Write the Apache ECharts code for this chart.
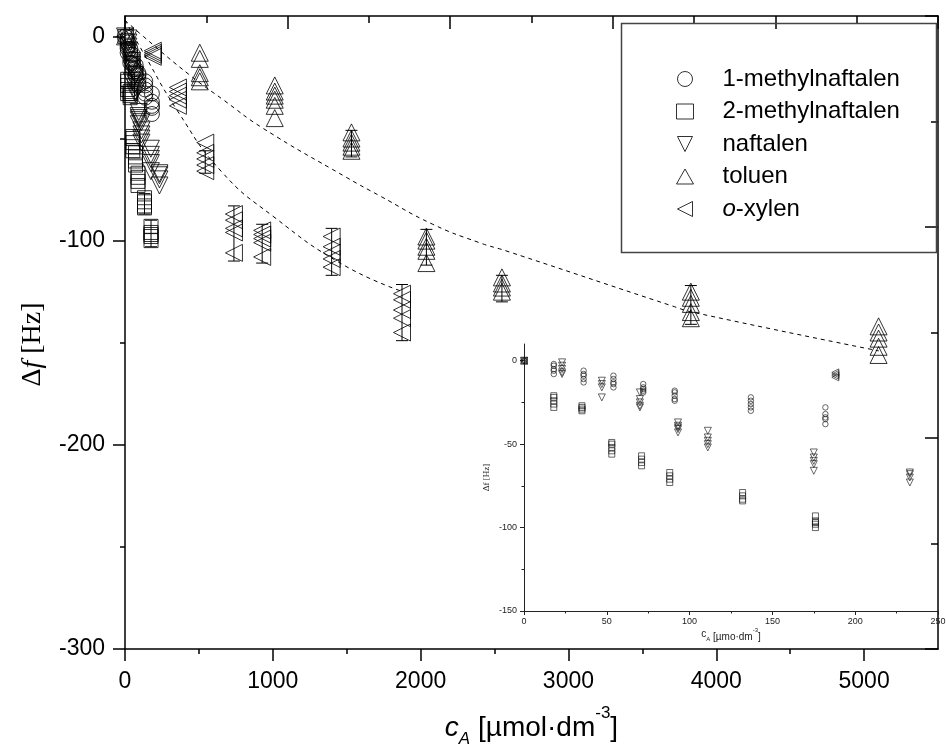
<!DOCTYPE html>
<html><head><meta charset="utf-8">
<script src="https://cdn.jsdelivr.net/npm/echarts@6/dist/echarts.min.js"></script>
<style>html,body{margin:0;padding:0;background:#fff}#c{width:946px;height:756px}</style>
</head><body><div id="c"></div>
<script>
// ---- data ----
const legendNames = ['1-methylnaftalen', '2-methylnaftalen', 'naftalen', 'toluen', 'o-xylen'];

const c1MN = [0, 18, 36, 54, 72, 91, 137, 182];
const v1MN = [[0], [-2, -3, -5, -6, -8], [-6, -8, -9, -11, -13], [-9, -11, -13, -14, -16], [-14, -16, -17, -18, -19], [-18, -19, -21, -23, -24], [-22, -24, -26, -28, -30], [-28, -32, -34, -35, -38]];

const c2MN = [0, 18, 35, 53, 71, 88, 132, 176];
const v2MN = [[0], [-21, -22, -24, -26, -28], [-27, -28, -29, -30], [-49, -50, -52, -54, -56], [-57, -59, -61, -63], [-67, -69, -71, -73], [-79, -81, -83, -84], [-93, -96, -97, -98, -100]];

const cNaf = [0, 23, 47, 70, 93, 111, 175, 233];
const vNaf = [[0], [-1, -3, -5, -7, -8], [-12, -14, -16, -22], [-19, -23, -25, -27, -28], [-37, -39, -40, -41, -43], [-42, -46, -48, -50, -52], [-55, -58, -60, -62, -66], [-67, -68, -70, -73]];

const cTol = [0, 506, 1013, 1532, 2039, 2550, 3828, 5098];
const vTol = [[0], [-8, -11, -18, -20, -22], [-24, -27, -29, -31, -34, -40], [-47, -50, -52, -54, -56], [-98, -100, -103, -105, -111], [-118, -121, -123, -125], [-125, -128, -131, -135, -138], [-142, -145, -148, -152, -156]];

const cXyl = [0, 188, 358, 543, 737, 928, 1398, 1874];
const vXyl = [[0], [-7, -8, -9, -10], [-25, -27, -29, -31, -34], [-52, -57, -60, -63, -66], [-87, -90, -94, -96, -106], [-95, -97, -99, -101, -108], [-98, -103, -106, -109, -113], [-126, -129, -134, -138, -145]];

// error bars: concentration, low, high
const errC = [132, 176, 543, 737, 928, 1398, 1874, 1532, 2039, 2550, 3828];
const errLo = [-87, -103, -67, -110, -111, -117, -149, -59, -112, -130, -141];
const errHi = [-77, -90, -56, -83, -92, -94, -121.5, -46, -94.5, -117, -122];

// dashed fit curves
const fitTolX = [0, 124, 439, 664, 934, 1497, 1722, 2082, 2397, 2577, 3702, 3837, 5100];
const fitTolY = [8, 0, -19, -31, -45, -69, -78, -92, -101, -105, -132, -135, -154];
const fitXylX = [0, 124, 360, 650, 1000, 1480, 1880];
const fitXylY = [8, -8, -37, -66, -88, -112, -125];

// axis ranges and ticks
const mainXRange = [0, 5500];
const mainYRange = [-300, 10];
const mainXTicks = [0, 1000, 2000, 3000, 4000, 5000];
const mainXMinor = [500, 1500, 2500, 3500, 4500];
const mainYTicks = [-300, -200, -100, 0];
const mainYMinor = [-250, -150, -50];
const insetXRange = [0, 250];
const insetYRange = [-150, 10];
const insetXTicks = [0, 50, 100, 150, 200, 250];
const insetXMinor = [25, 75, 125, 175, 225];
const insetYTicks = [-150, -100, -50, 0];
const insetYMinor = [-125, -75, -25];

// ---- build ----
function pairs(cs, vs) {
  const out = [];
  cs.forEach((c, i) => vs[i].forEach(v => out.push([c, v])));
  return out;
}
const FONT = 'Liberation Sans';
const SERIF = 'Liberation Serif';
const hollow = {color: 'rgba(255,255,255,0)', borderColor: '#000', borderWidth: 1};
const DOWN = 'path://M0,0 L10,0 L5,10 Z';
const LEFT = 'path://M10,0 L10,10 L0,5 Z';

const defs = [
  {name: legendNames[0], cs: c1MN, vs: v1MN, symbol: 'circle', size: 15, isize: 5.5},
  {name: legendNames[1], cs: c2MN, vs: v2MN, symbol: 'rect', size: 14, isize: 6},
  {name: legendNames[2], cs: cNaf, vs: vNaf, symbol: DOWN, size: 17, isize: 7},
  {name: legendNames[3], cs: cTol, vs: vTol, symbol: 'triangle', size: 17, isize: 7},
  {name: legendNames[4], cs: cXyl, vs: vXyl, symbol: LEFT, size: 17, isize: 7}
];

const series = [];
defs.forEach(d => {
  series.push({type: 'scatter', name: d.name, xAxisIndex: 0, yAxisIndex: 0, symbol: d.symbol,
    symbolSize: d.size, itemStyle: hollow, data: pairs(d.cs, d.vs), z: 3});
});
defs.forEach(d => {
  series.push({type: 'scatter', name: d.name, xAxisIndex: 2, yAxisIndex: 2, symbol: d.symbol,
    symbolSize: d.isize, itemStyle: {color: 'rgba(255,255,255,0)', borderColor: '#111', borderWidth: 0.8},
    data: pairs(d.cs, d.vs), clip: true, z: 3});
});
series.push({type: 'line', name: 'fitTol', xAxisIndex: 0, yAxisIndex: 0, smooth: true, showSymbol: false,
  symbol: 'none', lineStyle: {color: '#000', width: 1, type: [4, 4]}, data: fitTolX.map((x, i) => [x, fitTolY[i]]), z: 2});
series.push({type: 'line', name: 'fitXyl', xAxisIndex: 0, yAxisIndex: 0, smooth: true, showSymbol: false,
  symbol: 'none', lineStyle: {color: '#000', width: 1, type: [4, 4]}, data: fitXylX.map((x, i) => [x, fitXylY[i]]), z: 2});
series.push({type: 'custom', name: 'err', xAxisIndex: 0, yAxisIndex: 0, z: 4,
  data: errC.map((c, i) => [c, errLo[i], errHi[i]]),
  encode: {x: 0, y: [1, 2]},
  renderItem: function (params, api) {
    const x = api.value(0);
    const a = api.coord([x, api.value(2)]);
    const b = api.coord([x, api.value(1)]);
    const w = 6;
    const st = {stroke: '#000', lineWidth: 1};
    return {type: 'group', children: [
      {type: 'line', shape: {x1: a[0], y1: a[1], x2: b[0], y2: b[1]}, style: st},
      {type: 'line', shape: {x1: a[0] - w, y1: a[1], x2: a[0] + w, y2: a[1]}, style: st},
      {type: 'line', shape: {x1: b[0] - w, y1: b[1], x2: b[0] + w, y2: b[1]}, style: st}
    ]};
  }
});

const blackLine = {show: true, onZero: false, lineStyle: {color: '#000', width: 1.5}};
const insetLine = {show: true, onZero: false, lineStyle: {color: '#222', width: 1}};
const plain = v => String(v);

function minorAxis(grid, pos, range, ticks, len, color) {
  return {gridIndex: grid, type: 'value', position: pos, min: range[0], max: range[1],
    axisLine: {show: false, onZero: false},
    axisTick: {show: true, length: len, customValues: ticks, lineStyle: {color: color, width: grid === 0 ? 1.5 : 1}},
    axisLabel: {show: false}, splitLine: {show: false}};
}

const option = {
  animation: false,
  backgroundColor: '#fff',
  grid: [
    {left: 125, right: 8, top: 16, bottom: 107, show: false, containLabel: false, outerBoundsMode: 'none'},
    {left: 524, top: 344, width: 414, height: 267, show: false, containLabel: false, outerBoundsMode: 'none'}
  ],
  legend: {
    data: legendNames, orient: 'vertical', left: 676, top: 66, padding: 0,
    itemWidth: 17, itemHeight: 15, itemGap: 6.5,
    itemStyle: {color: 'rgba(255,255,255,0)', borderColor: '#000', borderWidth: 1},
    textStyle: {fontFamily: FONT, fontSize: 24, color: '#000', lineHeight: 26,
      rich: {sp: {width: 24, fontSize: 24}, t: {fontSize: 24, fontFamily: FONT}, it: {fontSize: 24, fontFamily: FONT, fontStyle: 'italic'}}},
    formatter: function (n) {
      if (n === 'o-xylen') return '{sp| }{it|o}{t|-xylen}';
      return '{sp| }{t|' + n + '}';
    }
  },
  graphic: [{type: 'rect', left: 619, top: 21, shape: {width: 315, height: 229},
    style: {fill: 'none', stroke: '#444', lineWidth: 1.5}, z: 1}],
  xAxis: [
    {gridIndex: 0, type: 'value', position: 'bottom', min: mainXRange[0], max: mainXRange[1],
      axisLine: blackLine, axisTick: {show: true, length: 12, customValues: mainXTicks, lineStyle: {color: '#000', width: 1.5}},
      splitLine: {show: false},
      axisLabel: {fontFamily: FONT, fontSize: 23, color: '#000', margin: 21, customValues: mainXTicks, formatter: plain},
      name: '{c|c}{s|A}{m| [µmol·dm}{p|-3}{m|]}', nameLocation: 'middle', nameGap: 71,
      nameTextStyle: {fontFamily: FONT, color: '#000', fontSize: 28, rich: {
        c: {fontFamily: FONT, fontStyle: 'italic', fontSize: 28, lineHeight: 28, padding: [0, 0, 6, 0], verticalAlign: 'bottom'},
        s: {fontFamily: FONT, fontStyle: 'italic', fontSize: 17, lineHeight: 17, verticalAlign: 'bottom'},
        m: {fontFamily: FONT, fontSize: 28, lineHeight: 28, padding: [0, 0, 6, 0], verticalAlign: 'bottom'},
        p: {fontFamily: FONT, fontSize: 17, lineHeight: 17, padding: [0, 0, 26, 0], verticalAlign: 'bottom'}
      }}
    },
    {gridIndex: 0, type: 'value', position: 'top', min: 0, max: 5, interval: 1,
      axisLine: blackLine, axisTick: {show: true, inside: true, length: 13, lineStyle: {color: '#000', width: 1.5}},
      minorTick: {show: true, splitNumber: 2, length: 7, lineStyle: {color: '#000', width: 1.5}},
      splitLine: {show: false}, axisLabel: {show: false}},
    {gridIndex: 1, type: 'value', position: 'bottom', min: insetXRange[0], max: insetXRange[1],
      axisLine: insetLine, axisTick: {show: true, length: 4, customValues: insetXTicks, lineStyle: {color: '#222'}},
      splitLine: {show: false},
      axisLabel: {fontFamily: FONT, fontSize: 9, color: '#222', margin: 6, customValues: insetXTicks, formatter: plain},
      name: '{c|c}{s|A} [µmo·dm{p|-3}]', nameLocation: 'middle', nameGap: 21,
      nameTextStyle: {fontFamily: FONT, color: '#222', fontSize: 10, rich: {
        c: {fontFamily: FONT, fontSize: 10, lineHeight: 10, padding: [0, 0, 3, 0], verticalAlign: 'bottom'},
        s: {fontFamily: FONT, fontSize: 6, lineHeight: 6, verticalAlign: 'bottom'},
        p: {fontFamily: FONT, fontSize: 6, lineHeight: 6, padding: [0, 0, 9, 0], verticalAlign: 'bottom'}
      }}
    },
    minorAxis(0, 'bottom', mainXRange, mainXMinor, 5, '#000'),
    minorAxis(1, 'bottom', insetXRange, insetXMinor, 2.5, '#222')
  ],
  yAxis: [
    {gridIndex: 0, type: 'value', position: 'left', min: mainYRange[0], max: mainYRange[1],
      axisLine: blackLine, axisTick: {show: true, length: 12, customValues: mainYTicks, lineStyle: {color: '#000', width: 1.5}},
      splitLine: {show: false},
      axisLabel: {fontFamily: FONT, fontSize: 23, color: '#000', margin: 20, customValues: mainYTicks, formatter: plain},
      name: '{d|Δ}{f|f}{d| [Hz]}', nameLocation: 'middle', nameGap: 78, nameRotate: 90,
      nameTextStyle: {fontFamily: SERIF, fontSize: 28, color: '#000', padding: [0, 24, 0, 0], rich: {
        d: {fontFamily: SERIF, fontSize: 28}, f: {fontFamily: SERIF, fontStyle: 'italic', fontSize: 28}
      }}
    },
    {gridIndex: 0, type: 'value', position: 'right', min: 0, max: 3, interval: 1,
      axisLine: blackLine, axisTick: {show: true, inside: true, length: 13, lineStyle: {color: '#000', width: 1.5}},
      minorTick: {show: true, splitNumber: 2, length: 7, lineStyle: {color: '#000', width: 1.5}},
      splitLine: {show: false}, axisLabel: {show: false}},
    {gridIndex: 1, type: 'value', position: 'left', min: insetYRange[0], max: insetYRange[1],
      axisLine: insetLine, axisTick: {show: true, length: 4, customValues: insetYTicks, lineStyle: {color: '#222'}},
      splitLine: {show: false},
      axisLabel: {fontFamily: FONT, fontSize: 9, color: '#222', margin: 7, customValues: insetYTicks, formatter: plain},
      name: 'Δf [Hz]', nameLocation: 'middle', nameGap: 33, nameRotate: 90,
      nameTextStyle: {fontFamily: SERIF, fontSize: 9, color: '#222'}
    },
    minorAxis(0, 'left', mainYRange, mainYMinor, 5, '#000'),
    minorAxis(1, 'left', insetYRange, insetYMinor, 2.5, '#222')
  ],
  series: series
};
echarts.init(document.getElementById('c'), null, {renderer: 'canvas'}).setOption(option);
</script>
</body></html>
